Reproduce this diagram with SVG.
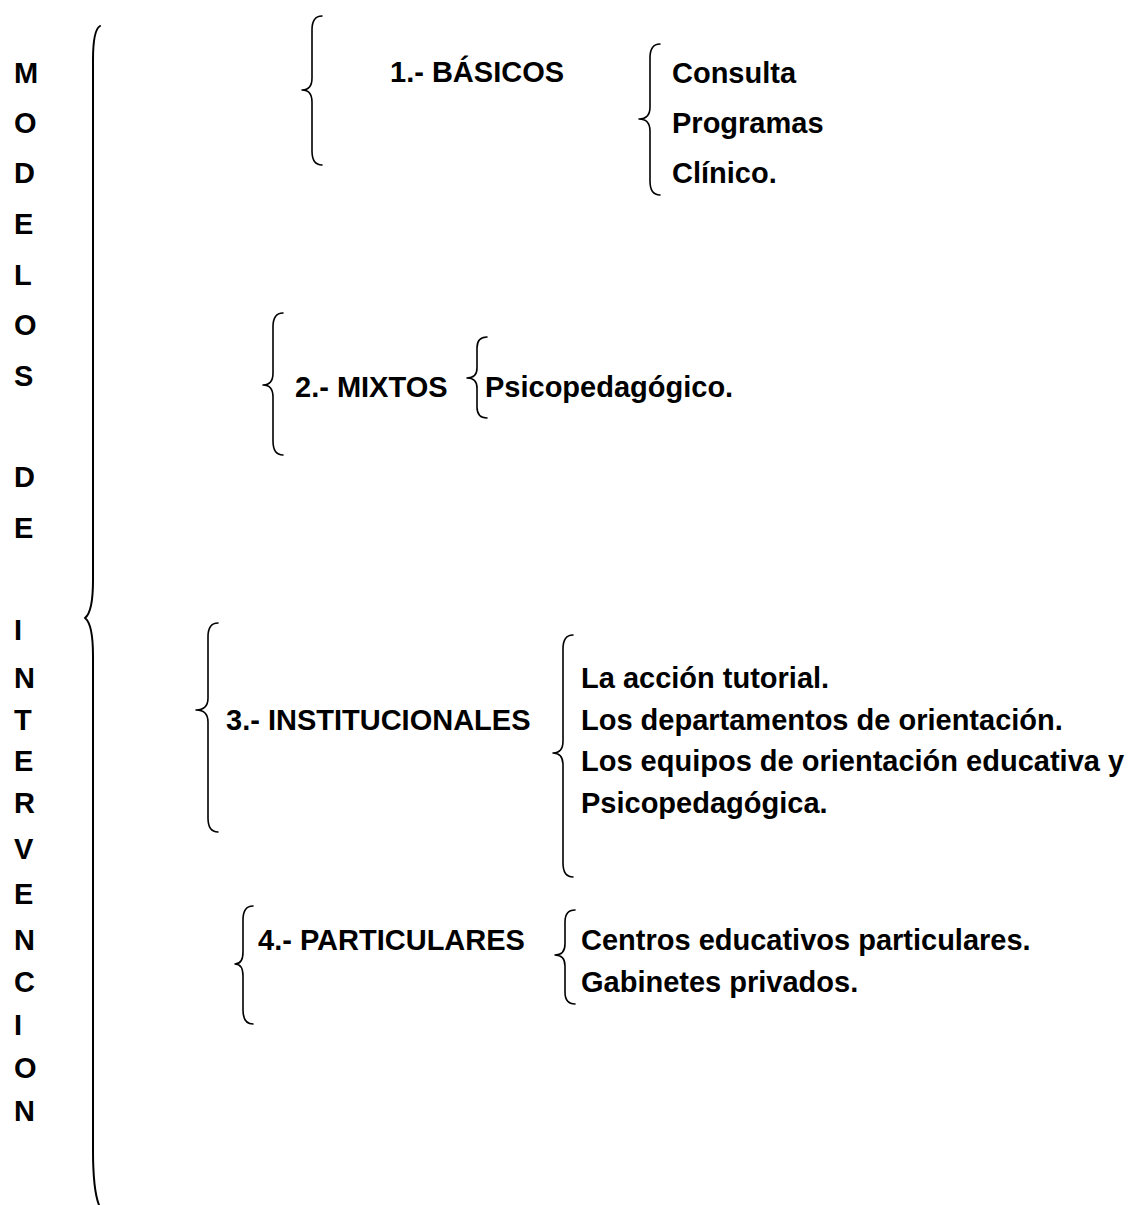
<svg xmlns="http://www.w3.org/2000/svg" width="1132" height="1205" viewBox="0 0 1132 1205">
<style>
text{font-family:"Liberation Sans",Arial,sans-serif;font-weight:bold;font-size:29px;fill:#000}
.brace{fill:none;stroke:#000;stroke-width:1.6;stroke-linecap:round;stroke-linejoin:round}
.big{stroke-width:2}
</style>
<rect width="1132" height="1205" fill="#fff"/>
<g id="title">
<text x="14" y="83">M</text>
<text x="14" y="133">O</text>
<text x="14" y="183">D</text>
<text x="14" y="234">E</text>
<text x="14" y="285">L</text>
<text x="14" y="335">O</text>
<text x="14" y="386">S</text>
<text x="14" y="487">D</text>
<text x="14" y="538">E</text>
<text x="14" y="640">I</text>
<text x="14" y="688">N</text>
<text x="14" y="730">T</text>
<text x="14" y="771">E</text>
<text x="14" y="813">R</text>
<text x="14" y="859">V</text>
<text x="14" y="904">E</text>
<text x="14" y="950">N</text>
<text x="14" y="992">C</text>
<text x="14" y="1035">I</text>
<text x="14" y="1078">O</text>
<text x="14" y="1121">N</text>
</g>
<g id="connectors">
<path class="brace big" d="M100,26 Q93,30 93,60 L93,580 Q93,612 85,618 Q93,624 93,656 L93,1150 Q93,1190 99,1205"/>
<path class="brace" d="M322,16 Q312,16 312,30 L312,78 Q312,90 302,90 Q312,90 312,102 L312,151 Q312,165 322,165"/>
<path class="brace" d="M660,44 Q650,44 650,58 L650,107 Q650,119 639,119 Q650,119 650,131 L650,181 Q650,195 660,195"/>
<path class="brace" d="M283,313 Q273,313 273,327 L273,373 Q273,385 263,385 Q273,385 273,397 L273,441 Q273,455 283,455"/>
<path class="brace" d="M487,337 Q477,337 477,348 L477,368 Q477,378 467,378 Q477,378 477,388 L477,407 Q477,418 487,418"/>
<path class="brace" d="M218,623 Q208,623 208,637 L208,698 Q208,710 196,710 Q208,710 208,722 L208,818 Q208,832 218,832"/>
<path class="brace" d="M573,635 Q563,635 563,649 L563,741 Q563,753 553,753 Q563,753 563,765 L563,863 Q563,877 573,877"/>
<path class="brace" d="M253,906 Q243,906 243,920 L243,952 Q243,964 235,964 Q243,964 243,976 L243,1010 Q243,1024 253,1024"/>
<path class="brace" d="M575,910 Q565,910 565,922 L565,944 Q565,955 555,955 Q565,955 565,966 L565,992 Q565,1004 575,1004"/>
</g>
<g id="basicos">
<text x="390" y="82">1.- BÁSICOS</text>
<text x="672" y="83">Consulta</text>
<text x="672" y="133">Programas</text>
<text x="672" y="183">Clínico.</text>
</g>
<g id="mixtos">
<text x="295" y="397">2.- MIXTOS</text>
<text x="485" y="397">Psicopedagógico.</text>
</g>
<g id="institucionales">
<text x="226" y="730">3.- INSTITUCIONALES</text>
<text x="581" y="688">La acción tutorial.</text>
<text x="581" y="730">Los departamentos de orientación.</text>
<text x="581" y="771">Los equipos de orientación educativa y</text>
<text x="581" y="813">Psicopedagógica.</text>
</g>
<g id="particulares">
<text x="258" y="950">4.- PARTICULARES</text>
<text x="581" y="950">Centros educativos particulares.</text>
<text x="581" y="992">Gabinetes privados.</text>
</g>
</svg>
